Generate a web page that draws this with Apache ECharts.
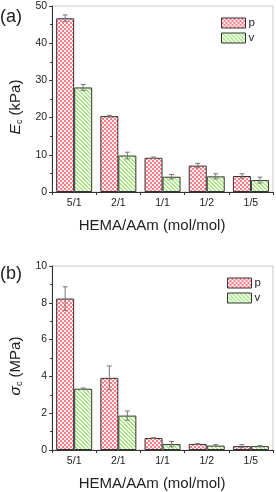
<!DOCTYPE html>
<html>
<head>
<meta charset="utf-8">
<script src="https://cdn.jsdelivr.net/npm/echarts@6/dist/echarts.min.js"></script>
<style>
html,body{margin:0;padding:0;background:#fff;}
#c{width:276px;height:492px;}
</style>
</head>
<body>
<div id="c"></div>
<script>
const categories = ['5/1', '2/1', '1/1', '1/2', '1/5'];
const seriesNames = ['p', 'v'];
const ecP = [46.7, 20.4, 9.2, 7.1, 4.3];
const ecPErr = [0.9, 0.2, 0.2, 0.6, 0.6];
const ecV = [28.1, 9.8, 4.1, 4.2, 3.2];
const ecVErr = [0.8, 0.9, 0.6, 0.7, 0.8];
const scP = [8.23, 3.92, 0.65, 0.33, 0.21];
const scPErr = [0.64, 0.65, 0.02, 0.02, 0.08];
const scV = [3.33, 1.87, 0.32, 0.24, 0.21];
const scVErr = [0.04, 0.25, 0.15, 0.05, 0.03];

function makeChecker() {
  const c = document.createElement('canvas');
  c.width = 4; c.height = 4;
  const g = c.getContext('2d');
  g.fillStyle = '#fff2f3'; g.fillRect(0, 0, 4, 4);
  g.fillStyle = '#ff7d8a';
  g.fillRect(0, 0, 2, 2); g.fillRect(2, 2, 2, 2);
  return c;
}
function makeStripes() {
  const c = document.createElement('canvas');
  c.width = 4; c.height = 4;
  const g = c.getContext('2d');
  g.fillStyle = '#ffffff'; g.fillRect(0, 0, 4, 4);
  g.fillStyle = '#a6ea82';
  for (let y = 0; y < 4; y++) {
    for (let x = 0; x < 4; x++) {
      const d = ((x - y) % 4 + 4) % 4;
      if (d === 0 || d === 1) g.fillRect(x, y, 1, 1);
    }
  }
  return c;
}
const redPat = { image: makeChecker(), repeat: 'repeat' };
const greenPat = { image: makeStripes(), repeat: 'repeat' };
const BW = 18;

function barSeries(name, data, idx, pat) {
  return {
    type: 'bar', name: name, data: data,
    xAxisIndex: idx, yAxisIndex: idx,
    barWidth: BW, barGap: '0%',
    itemStyle: { color: pat, borderColor: '#333', borderWidth: 1 },
    z: 2
  };
}
function errSeries(vals, errs, idx, side) {
  return {
    type: 'custom', xAxisIndex: idx, yAxisIndex: idx, z: 5, silent: true,
    data: vals.map((v, i) => [i, v, errs[i]]),
    renderItem: function (params, api) {
      const i = api.value(0), v = api.value(1), e = api.value(2);
      const top = api.coord([i, v + e]);
      const bot = api.coord([i, v - e]);
      const x = top[0] + side * BW / 2;
      const cw = 2.5;
      const st = { stroke: '#777', lineWidth: 1 };
      return {
        type: 'group',
        children: [
          { type: 'line', shape: { x1: x, y1: top[1], x2: x, y2: bot[1] }, style: st },
          { type: 'line', shape: { x1: x - cw, y1: top[1], x2: x + cw, y2: top[1] }, style: st },
          { type: 'line', shape: { x1: x - cw, y1: bot[1], x2: x + cw, y2: bot[1] }, style: st }
        ]
      };
    }
  };
}

const axisTxt = { color: '#222', fontFamily: 'Liberation Sans', fontSize: 10.5 };
function xAx(idx) {
  return {
    type: 'category', gridIndex: idx, data: categories,
    axisLine: { lineStyle: { color: '#333', width: 1 } },
    axisTick: { show: true, length: 3, lineStyle: { color: '#333' } },
    axisLabel: Object.assign({ margin: 6 }, axisTxt),
    name: 'HEMA/AAm (mol/mol)', nameLocation: 'middle', nameGap: 26,
    nameTextStyle: { color: '#222', fontFamily: 'Liberation Sans', fontSize: 15, padding: [0, 21, 0, 0] }
  };
}
function yAx(idx, max, interval, letter, unit) {
  return {
    type: 'value', gridIndex: idx, min: 0, max: max, interval: interval,
    splitLine: { show: false },
    axisLine: { show: true, lineStyle: { color: '#333', width: 1 } },
    axisTick: { show: true, length: 3, lineStyle: { color: '#333' } },
    minorTick: { show: true, splitNumber: 2, length: 2, lineStyle: { color: '#333' } },
    axisLabel: Object.assign({ margin: 5 }, axisTxt),
    name: '{i|' + letter + '}{s|c}{n| (' + unit + ')}',
    nameLocation: 'middle', nameGap: 27, nameRotate: 90,
    nameTextStyle: {
      color: '#222', fontFamily: 'Liberation Sans', fontSize: 15, padding: [0, 16, 0, 0],
      rich: {
        i: { fontStyle: 'italic', fontSize: 15.5, fontFamily: 'Liberation Sans', color: '#222' },
        s: { fontSize: 9, fontFamily: 'Liberation Sans', color: '#222', padding: [8, 0, 0, 0] },
        n: { fontSize: 15, fontFamily: 'Liberation Sans', color: '#222' }
      }
    }
  };
}
function legendAt(left, top) {
  return {
    orient: 'vertical', left: left, top: top, data: seriesNames,
    icon: 'rect',
    itemWidth: 24, itemHeight: 10, itemGap: 3,
    selectedMode: false,
    itemStyle: { borderColor: '#333', borderWidth: 1 },
    textStyle: { color: '#222', fontFamily: 'Liberation Sans', fontSize: 11.5, padding: [0, 0, 0, -2] },
    padding: 0
  };
}

const chart = echarts.init(document.getElementById('c'), null, { renderer: 'canvas' });
chart.setOption({
  animation: false,
  backgroundColor: '#fff',
  grid: [
    { left: 47, right: 3, top: 6, height: 186, show: true, borderColor: '#c8c8c8', borderWidth: 1 },
    { left: 47, right: 3, top: 266, height: 186, show: true, borderColor: '#c8c8c8', borderWidth: 1 }
  ],
  xAxis: [xAx(0), xAx(1)],
  yAxis: [yAx(0, 50, 10, 'E', 'kPa'), yAx(1, 10, 2, 'σ', 'MPa')],
  legend: [legendAt(221, 17), legendAt(227, 277)],
  graphic: [
    { type: 'text', left: 0, top: 8, style: { text: '(a)', fontSize: 18, fontFamily: 'Liberation Sans', fill: '#222' } },
    { type: 'text', left: 0, top: 265, style: { text: '(b)', fontSize: 18, fontFamily: 'Liberation Sans', fill: '#222' } }
  ],
  series: [
    barSeries('p', ecP, 0, redPat),
    barSeries('v', ecV, 0, greenPat),
    barSeries('p', scP, 1, redPat),
    barSeries('v', scV, 1, greenPat),
    errSeries(ecP, ecPErr, 0, -1),
    errSeries(ecV, ecVErr, 0, 1),
    errSeries(scP, scPErr, 1, -1),
    errSeries(scV, scVErr, 1, 1)
  ]
});
</script>
</body>
</html>
